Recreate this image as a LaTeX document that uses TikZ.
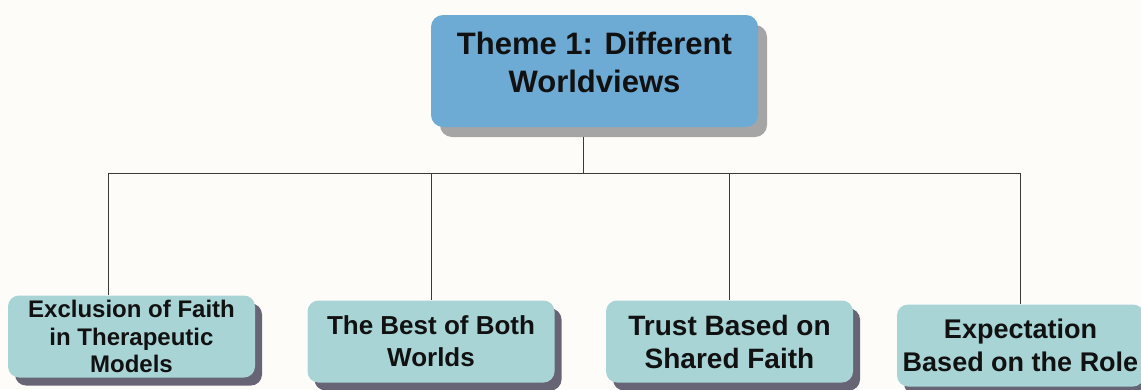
\documentclass[tikz,border=0pt]{standalone}
\usepackage{fontspec}
\setmainfont{Liberation Sans}
\usetikzlibrary{shadows}

\definecolor{pagebg}{HTML}{FDFCF9}
\definecolor{themeblue}{HTML}{6DABD4}
\definecolor{themeshadow}{HTML}{A5A5A5}
\definecolor{subteal}{HTML}{A8D4D6}
\definecolor{subshadow}{HTML}{676575}
\definecolor{linkgray}{HTML}{3A3A3A}
\definecolor{inkblack}{HTML}{111111}

\begin{document}
\begin{tikzpicture}[x=1pt, y=-1pt,
  themebox/.style={fill=themeblue, rounded corners=12pt, inner sep=0pt,
    minimum width=327pt, minimum height=112pt,
    drop shadow={shadow xshift=9pt, shadow yshift=-10pt, opacity=1, fill=themeshadow}},
  titletext/.style={font=\bfseries\fontsize{31}{38}\selectfont, align=center, text=inkblack},
  subbox/.style={fill=subteal, rounded corners=11pt, inner sep=0pt, align=center,
    minimum width=247pt, minimum height=82pt, text=inkblack,
    drop shadow={shadow xshift=7pt, shadow yshift=-8pt, opacity=1, fill=subshadow}},
  link/.style={draw=linkgray, line width=1pt}]

\useasboundingbox (0,0) rectangle (1141,389);
\fill[pagebg] (0,0) rectangle (1141,389);

% theme box, title sits a little above the middle
\node[themebox, label={[titletext, yshift=9pt]center:{Theme 1: Different\\Worldviews}}] (theme) at (594.5,71) {};

% sub-themes
\foreach \name/\cx/\cy/\sz/\lead/\txt in {
exclusion/131.5/336.5/24/27.5/{Exclusion of Faith\\in Therapeutic\\Models},
best/431/341.5/26/32/{The Best of Both\\Worlds},
trust/729.5/341.5/28/33/{Trust Based on\\Shared Faith},
role/1020.5/345.5/27/33/{Expectation\\Based on the Role}}
\node[subbox, font=\bfseries\fontsize{\sz}{\lead}\selectfont] (\name) at (\cx,\cy) {\txt};

% tree connectors
\coordinate (hub) at (583,173);
\draw[link, shorten <=10pt] (theme.south -| hub) -- (hub);
\draw[link] (hub) -| ([xshift=-23.5pt]exclusion.north);
\foreach \name in {best,trust,role}
\draw[link] (hub) -| (\name.north);

\end{tikzpicture}
\end{document}
